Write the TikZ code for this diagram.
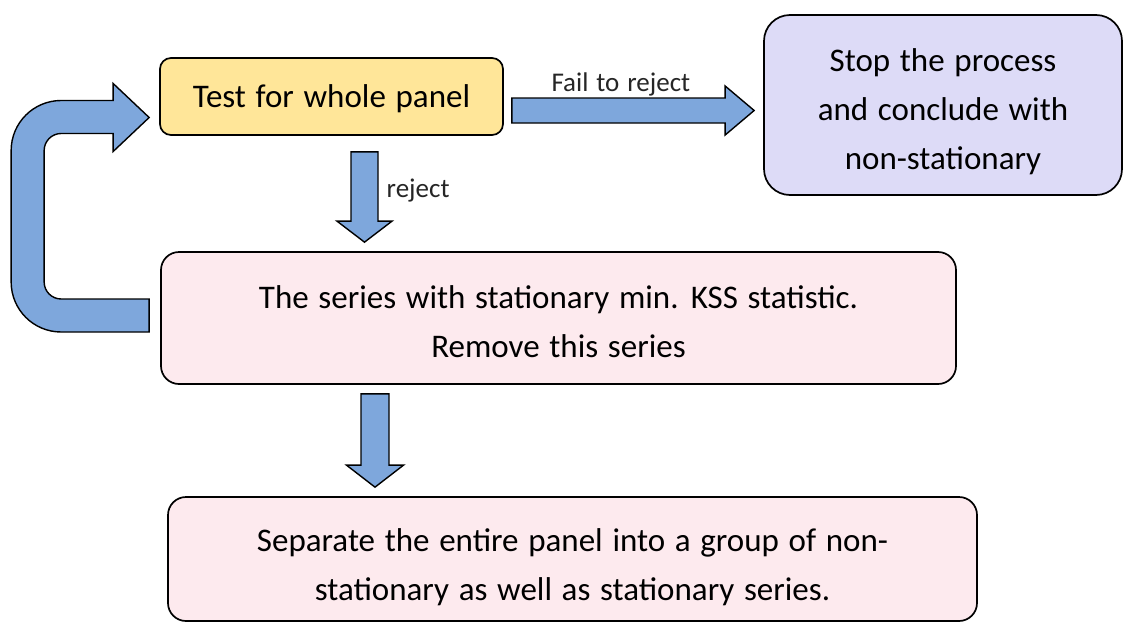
\documentclass[tikz,border=0pt]{standalone}
\usepackage{fontspec}
\setmainfont{Carlito}[WordSpace=1.3]
\usetikzlibrary{calc}
\definecolor{boxyellow}{HTML}{FFE699}
\definecolor{boxlav}{HTML}{DDDBF7}
\definecolor{boxpink}{HTML}{FDEAEE}
\definecolor{arrblue}{HTML}{7EA7DC}
\tikzset{
  box/.style={draw=black, line width=1.7pt, inner sep=0pt},
  boxtext/.style={align=center, inner sep=0pt, font=\fontsize{33}{49}\selectfont},
  barrow/.style={draw=black, line width=1.4pt, fill=arrblue, line join=miter},
  lab/.style={font=\fontsize{27}{30}\selectfont, text=black!85, inner sep=0pt}
}
\begin{document}
\begin{tikzpicture}[x=1pt, y=-1pt]
\path[use as bounding box, fill=white] (0,0) rectangle (1123,621);

\node[box, fill=boxyellow, rounded corners=11pt, minimum width=343pt, minimum height=77pt]
  (test) at (331.5,96.5) {};
\node[boxtext] (testT) at ($(test.center)+(0,2)$) {Test for whole panel};
\node[box, fill=boxlav, rounded corners=26pt, minimum width=358pt, minimum height=180pt]
  (stop) at (943,105) {};
\node[boxtext] (stopT) at ($(stop.center)+(0,7)$) {Stop the process\\and conclude with\\non-stationary};
\node[box, fill=boxpink, rounded corners=18pt, minimum width=795pt, minimum height=132pt]
  (series) at (558.5,318) {};
\node[boxtext] (seriesT) at ($(series.center)+(0,4)$) {The series with stationary min. KSS statistic.\\Remove this series};
\node[box, fill=boxpink, rounded corners=18pt, minimum width=809pt, minimum height=124pt]
  (sep) at (572.5,559) {};
\node[boxtext] (sepT) at ($(sep.center)+(0,8)$) {Separate the entire panel into a group of non-\\stationary as well as stationary series.};

% right arrow: test -> stop
\coordinate (r1) at ($(test.east)+(8,14)$);
\coordinate (r2) at ($(r1 -| stop.west)+(-9,0)$);
\draw[barrow] ($(r1)+(0,-12.5)$) -- ($(r2)+(-29,-12.5)$) -- ($(r2)+(-29,-24.5)$) -- (r2)
  -- ($(r2)+(-29,24.5)$) -- ($(r2)+(-29,12.5)$) -- ($(r1)+(0,12.5)$) -- cycle;
\node[lab, anchor=south] (fail) at ($(r1)!0.45!(r2)+(0,-14)$) {Fail to reject};

% down arrow: test -> series
\coordinate (d1) at ($(test.south)+(33,16)$);
\coordinate (d2) at ($(d1 |- series.north)+(0,-9)$);
\draw[barrow] ($(d1)+(-13.5,0)$) -- ($(d2)+(-13.5,-21)$) -- ($(d2)+(-27.5,-21)$) -- (d2)
  -- ($(d2)+(27.5,-21)$) -- ($(d2)+(13.5,-21)$) -- ($(d1)+(13.5,0)$) -- cycle;
\node[lab, anchor=west] (rej) at ($(d1)+(22,39)$) {reject};

% down arrow: series -> sep
\coordinate (e1) at ($(series.south)+(-183.5,9)$);
\coordinate (e2) at ($(e1 |- sep.north)+(0,-9)$);
\draw[barrow] ($(e1)+(-14,0)$) -- ($(e2)+(-14,-22)$) -- ($(e2)+(-28.5,-22)$) -- (e2)
  -- ($(e2)+(28.5,-22)$) -- ($(e2)+(14,-22)$) -- ($(e1)+(14,0)$) -- cycle;

% loop arrow: series -> test
\coordinate (l1) at ($(series.west)+(-11,-1.5)$);
\coordinate (l2) at ($(test.west)+(-10,21)$);
\draw[barrow] ($(l1)+(0,15.5)$) -- ($(l1)+(-88,15.5)$) arc[start angle=90, end angle=180, radius=50]
  -- ($(l2)+(-138,33)$) arc[start angle=180, end angle=270, radius=50]
  -- ($(l2)+(-36,-17)$) -- ($(l2)+(-36,-34)$) -- (l2) -- ($(l2)+(-36,34)$) -- ($(l2)+(-36,16)$)
  -- ($(l2)+(-88,16)$) arc[start angle=270, end angle=180, radius=17]
  -- ($(l1)+(-105,-34.5)$) arc[start angle=180, end angle=90, radius=17]
  -- ($(l1)+(0,-17.5)$) -- cycle;
\end{tikzpicture}
\end{document}
